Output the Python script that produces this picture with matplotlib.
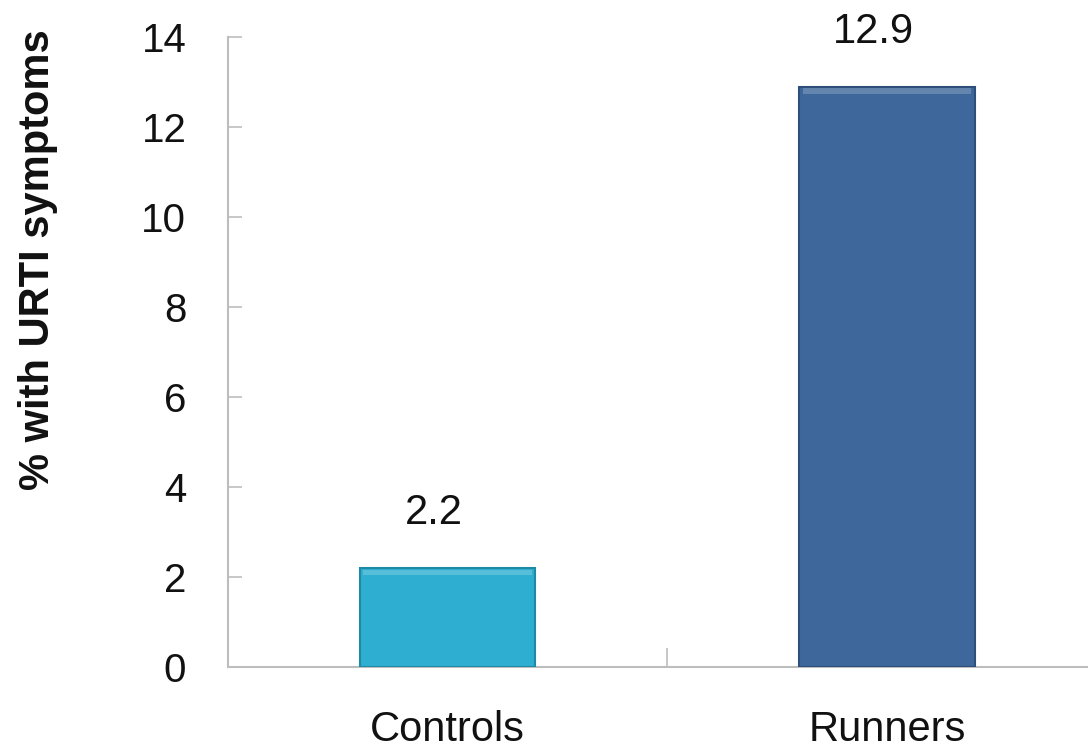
import matplotlib
matplotlib.use("Agg")
import matplotlib.pyplot as plt

groups = ["Controls", "Runners"]
urti_pct = [2.2, 12.9]
bar_colors = ["#2eaed0", "#3e679b"]
edge_colors = ["#1f8aa6", "#2d4f7a"]
y_ticks = [0, 2, 4, 6, 8, 10, 12, 14]

plt.rcParams["font.family"] = ["Liberation Sans", "DejaVu Sans"]

fig = plt.figure(figsize=(10.88, 7.48), dpi=100)
ax = fig.add_axes([228 / 1088, 81 / 748, 860 / 1088, 630 / 748])

x = list(range(len(groups)))
bars = ax.bar(x, urti_pct, width=0.40, color=bar_colors,
              edgecolor=edge_colors, linewidth=1.5, zorder=3)

# soft bevel along the top of each bar
for b in bars:
    ax.bar(b.get_x() + b.get_width() / 2, 0.12, bottom=b.get_height() - 0.16,
           width=b.get_width() * 0.96, color="white", alpha=0.2,
           linewidth=0, zorder=4)

for xi, v in zip(x, urti_pct):
    ax.annotate(f"{v}", (xi, v), xytext=(-10, 25), textcoords="offset points",
                ha="center", va="bottom", fontsize=30, color="#111111")

ax.set_xlim(-0.5, 1.458)
ax.set_ylim(0, 14)
ax.set_yticks(y_ticks)
ax.set_yticklabels([str(t) for t in y_ticks], fontsize=29, color="#111111")
ax.set_xticks([0.5], minor=False)
ax.set_xticklabels([""])
ax.set_xticks(x, minor=True)
ax.set_xticklabels(groups, minor=True, fontsize=30, color="#111111")
ax.tick_params(axis="x", which="minor", length=0, pad=31)
ax.tick_params(axis="x", which="major", direction="in", length=14,
               color="#bdbdbd", width=1.2)
ax.tick_params(axis="y", direction="in", length=10, color="#bdbdbd",
               width=1.2, pad=30)

for side in ["top", "right"]:
    ax.spines[side].set_visible(False)
for side in ["left", "bottom"]:
    ax.spines[side].set_color("#bdbdbd")
    ax.spines[side].set_linewidth(1.5)

ax.set_ylabel("% with URTI symptoms", fontsize=30, fontweight="bold",
              color="#111111")
ax.yaxis.set_label_coords(-170 / 860, 0.646)

fig.savefig("out.png", dpi=100)
